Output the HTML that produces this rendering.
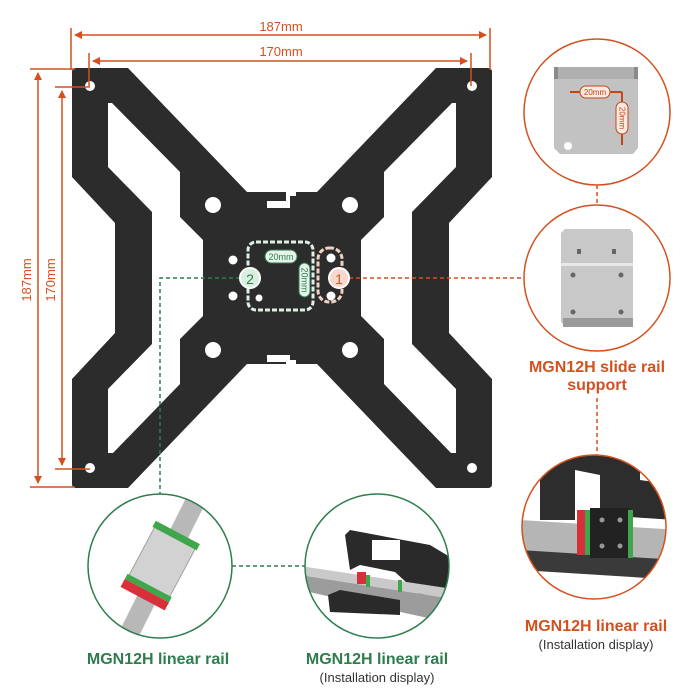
<!DOCTYPE html>
<html><head><meta charset="utf-8"><style>
html,body{margin:0;padding:0;background:#fff;}
svg{display:block;font-family:"Liberation Sans",sans-serif;}
</style></head><body>
<svg width="700" height="700" viewBox="0 0 700 700" xmlns="http://www.w3.org/2000/svg">
<defs>
<marker id="ao" markerWidth="8" markerHeight="8" refX="7" refY="4" orient="auto-start-reverse" markerUnits="userSpaceOnUse"><path d="M0,0 L8,4 L0,8 z" fill="#d4511f"/></marker>
<clipPath id="c1"><circle cx="160" cy="566" r="72"/></clipPath>
<clipPath id="c2"><circle cx="377" cy="566" r="72"/></clipPath>
<clipPath id="c3"><circle cx="594" cy="527" r="72"/></clipPath>
</defs>

<path fill="#2c2c2c" fill-rule="evenodd" d="
M72,72 Q72,68 76,68 L128,68 L247,192 L317,192 L436,68 L488,68 Q492,68 492,72 L492,177 L449,223 L449,333 L492,379 L492,484 Q492,488 488,488 L436,488 L317,364 L247,364 L128,488 L76,488 Q72,488 72,484 L72,379 L115,333 L115,223 L72,177 Z
M108,103 L112,103 L180,172 L180,217 L203,240 L203,316 L180,339 L180,384 L113,453 L108,453 L108,389 L152,344 L152,212 L108,167 Z
M456,103 L452,103 L384,172 L384,217 L361,240 L361,316 L384,339 L384,384 L451,453 L456,453 L456,389 L412,344 L412,212 L456,167 Z"/>
<path fill="#fff" d="M267,201 L286,201 L286,192 L296,192 L296,196 L290,196 L290,208 L267,208 Z"/>
<path fill="#fff" d="M267,355 L290,355 L290,360 L296,360 L296,364 L286,364 L286,362 L267,362 Z"/>
<g fill="#fff">
<circle cx="90" cy="86" r="5"/><circle cx="472" cy="86" r="5"/><circle cx="90" cy="468" r="5"/><circle cx="472" cy="468" r="5"/>
<circle cx="213" cy="205" r="8"/><circle cx="350" cy="205" r="8"/><circle cx="213" cy="350" r="8"/><circle cx="350" cy="350" r="8"/>
<circle cx="233" cy="260" r="4.5"/><circle cx="233" cy="296" r="4.5"/><circle cx="259" cy="298" r="3.5"/>
<circle cx="331" cy="258" r="4.5"/><circle cx="331" cy="296" r="4.5"/>
</g>
<rect x="248" y="242" width="65" height="68" rx="8" fill="none" stroke="#e0efe4" stroke-width="3" stroke-dasharray="5,2"/>
<rect x="318" y="248" width="24" height="54" rx="11" fill="none" stroke="#f0d2c4" stroke-width="3" stroke-dasharray="5,2"/>
<rect x="265" y="250" width="32" height="13" rx="6.5" fill="#e6f3e9" stroke="#2e7d4f" stroke-width="1"/>
<text x="281" y="260" font-size="9" fill="#2e7d4f" text-anchor="middle">20mm</text>
<rect x="299" y="263" width="11" height="34" rx="5.5" fill="#e6f3e9" stroke="#2e7d4f" stroke-width="1"/>
<text x="0" y="0" font-size="9" fill="#2e7d4f" text-anchor="middle" transform="translate(301.5,280) rotate(90)">20mm</text>
<path d="M240,278 L160,278 L160,494" fill="none" stroke="#2e7d4f" stroke-width="1.5" stroke-dasharray="4,3"/>
<path d="M232,566 L305,566" fill="none" stroke="#2e7d4f" stroke-width="1.5" stroke-dasharray="4,3"/>
<path d="M349,278 L524,278" fill="none" stroke="#d4511f" stroke-width="1.5" stroke-dasharray="4,3"/>
<path d="M597,185 L597,205" fill="none" stroke="#d4511f" stroke-width="1.5" stroke-dasharray="4,3"/>
<path d="M597,398 L597,455" fill="none" stroke="#d4511f" stroke-width="1.5" stroke-dasharray="4,3"/>
<circle cx="250" cy="278" r="10" fill="#d8efdf" stroke="#fff" stroke-width="2"/>
<text x="250" y="284" font-size="14" fill="#2e7d4f" text-anchor="middle">2</text>
<circle cx="339" cy="278" r="10" fill="#f6d9cc" stroke="#fff" stroke-width="2"/>
<text x="339" y="284" font-size="14" fill="#d4511f" text-anchor="middle">1</text>

<g stroke="#d4511f" stroke-width="1.5" fill="none">
<line x1="71" y1="28" x2="71" y2="70"/><line x1="490" y1="28" x2="490" y2="70"/>
<line x1="75" y1="35" x2="486" y2="35" marker-start="url(#ao)" marker-end="url(#ao)"/>
<line x1="89" y1="53" x2="89" y2="86"/><line x1="471" y1="53" x2="471" y2="86"/>
<line x1="93" y1="61" x2="467" y2="61" marker-start="url(#ao)" marker-end="url(#ao)"/>
<line x1="30" y1="69" x2="75" y2="69"/><line x1="30" y1="487" x2="75" y2="487"/>
<line x1="38" y1="73" x2="38" y2="483" marker-start="url(#ao)" marker-end="url(#ao)"/>
<line x1="55" y1="87" x2="90" y2="87"/><line x1="55" y1="469" x2="90" y2="469"/>
<line x1="62" y1="91" x2="62" y2="465" marker-start="url(#ao)" marker-end="url(#ao)"/>
</g>
<g fill="#d4511f" font-size="13" text-anchor="middle">
<text x="281" y="31">187mm</text>
<text x="281" y="56">170mm</text>
<text transform="translate(31,280) rotate(-90)">187mm</text>
<text transform="translate(55,280) rotate(-90)">170mm</text>
</g>

<circle cx="597" cy="112" r="73" fill="#fff" stroke="#d4511f" stroke-width="1.5"/>
<path d="M554,67 L638,67 L638,148 L633,154 L560,154 L554,148 Z" fill="#c2c2c2"/>
<rect x="554" y="67" width="84" height="12" fill="#8a8a8a"/>
<rect x="558" y="67" width="76" height="12" fill="#b0b0b0"/>
<circle cx="568" cy="146" r="4" fill="#fff"/>
<line x1="570" y1="92" x2="622" y2="92" stroke="#c0461c" stroke-width="2"/>
<line x1="622" y1="92" x2="622" y2="145" stroke="#c0461c" stroke-width="2"/>
<rect x="580" y="86" width="30" height="12" rx="6" fill="#fbe8df" stroke="#c0461c"/>
<text x="595" y="95" font-size="8" fill="#c0461c" text-anchor="middle">20mm</text>
<rect x="616" y="102" width="12" height="32" rx="6" fill="#fbe8df" stroke="#c0461c"/>
<text transform="translate(619.5,118) rotate(90)" font-size="8" fill="#c0461c" text-anchor="middle">20mm</text>
<circle cx="597" cy="278" r="73" fill="#fff" stroke="#d4511f" stroke-width="1.5"/>
<path d="M561,233 L565,229 L630,229 L633,233 L633,322 L630,326 L565,326 L561,322 Z" fill="#c8c8c8"/>
<rect x="561" y="263" width="72" height="3" fill="#e8e8e8"/>
<rect x="563" y="318" width="70" height="9" fill="#9a9a9a"/>
<g fill="#666"><circle cx="573" cy="275" r="2.5"/><circle cx="621" cy="275" r="2.5"/><circle cx="573" cy="312" r="2.5"/><circle cx="621" cy="312" r="2.5"/><rect x="577" y="249" width="4" height="5"/><rect x="612" y="249" width="4" height="5"/></g>
<text x="597" y="372" font-size="16" font-weight="bold" fill="#d4511f" text-anchor="middle">MGN12H slide rail</text>
<text x="597" y="390" font-size="16" font-weight="bold" fill="#d4511f" text-anchor="middle">support</text>

<circle cx="160" cy="566" r="72" fill="#fff"/>
<g clip-path="url(#c1)">
<polygon points="194,482 212,490 132,650 114,642" fill="#b8b8b8"/>
<g transform="rotate(28 160 566)">
<rect x="137" y="533" width="46" height="58" fill="#d2d2d2" stroke="#a0a0a0"/>
<rect x="135" y="528" width="50" height="7" fill="#3fa64b"/>
<rect x="135" y="588" width="50" height="6" fill="#3fa64b"/>
<rect x="135" y="594" width="50" height="9" fill="#d8303a"/>
</g>
</g>
<circle cx="160" cy="566" r="72" fill="none" stroke="#2e7d4f" stroke-width="1.5"/>

<circle cx="377" cy="566" r="72" fill="#fff"/>
<g clip-path="url(#c2)">
<path d="M345,535 L350,530 L430,545 L455,560 L455,590 L420,595 L395,572 L360,565 L350,570 Z" fill="#2a2a2a"/>
<rect x="372" y="540" width="28" height="20" fill="#fff"/>
<polygon points="300,575 460,600 460,625 300,590" fill="#9c9c9c"/>
<polygon points="300,566 460,590 460,600 300,575" fill="#c9c9c9"/>
<rect x="357" y="572" width="9" height="12" fill="#d8303a"/>
<rect x="366" y="575" width="4" height="12" fill="#3fa64b"/>
<rect x="398" y="580" width="4" height="12" fill="#3fa64b"/>
<path d="M328,595 L340,590 L400,600 L400,615 L330,612 Z" fill="#2a2a2a"/>
</g>
<circle cx="377" cy="566" r="72" fill="none" stroke="#2e7d4f" stroke-width="1.5"/>

<circle cx="594" cy="527" r="72" fill="#fff"/>
<g clip-path="url(#c3)">
<path d="M540,455 L640,455 L640,480 L675,485 L675,520 L600,515 L600,475 L575,470 L575,520 L540,520 Z" fill="#2d2d2d"/>
<polygon points="520,520 680,530 680,560 520,550" fill="#b5b5b5"/>
<polygon points="520,550 680,560 680,580 520,570" fill="#3a3a3a"/>
<rect x="577" y="510" width="10" height="45" fill="#d8303a"/>
<rect x="585" y="510" width="5" height="45" fill="#3fa64b"/>
<rect x="590" y="508" width="40" height="50" fill="#222"/>
<rect x="628" y="510" width="5" height="48" fill="#3fa64b"/>
<g fill="#999"><circle cx="602" cy="520" r="2.5"/><circle cx="620" cy="520" r="2.5"/><circle cx="602" cy="546" r="2.5"/><circle cx="620" cy="546" r="2.5"/></g>
</g>
<circle cx="594" cy="527" r="72" fill="none" stroke="#d4511f" stroke-width="1.5"/>

<text x="158" y="664" font-size="16" font-weight="bold" fill="#2e7d4f" text-anchor="middle">MGN12H linear rail</text>
<text x="377" y="664" font-size="16" font-weight="bold" fill="#2e7d4f" text-anchor="middle">MGN12H linear rail</text>
<text x="377" y="682" font-size="13" fill="#333" text-anchor="middle">(Installation display)</text>
<text x="596" y="631" font-size="16" font-weight="bold" fill="#d4511f" text-anchor="middle">MGN12H linear rail</text>
<text x="596" y="649" font-size="13" fill="#333" text-anchor="middle">(Installation display)</text>
</svg>
</body></html>
